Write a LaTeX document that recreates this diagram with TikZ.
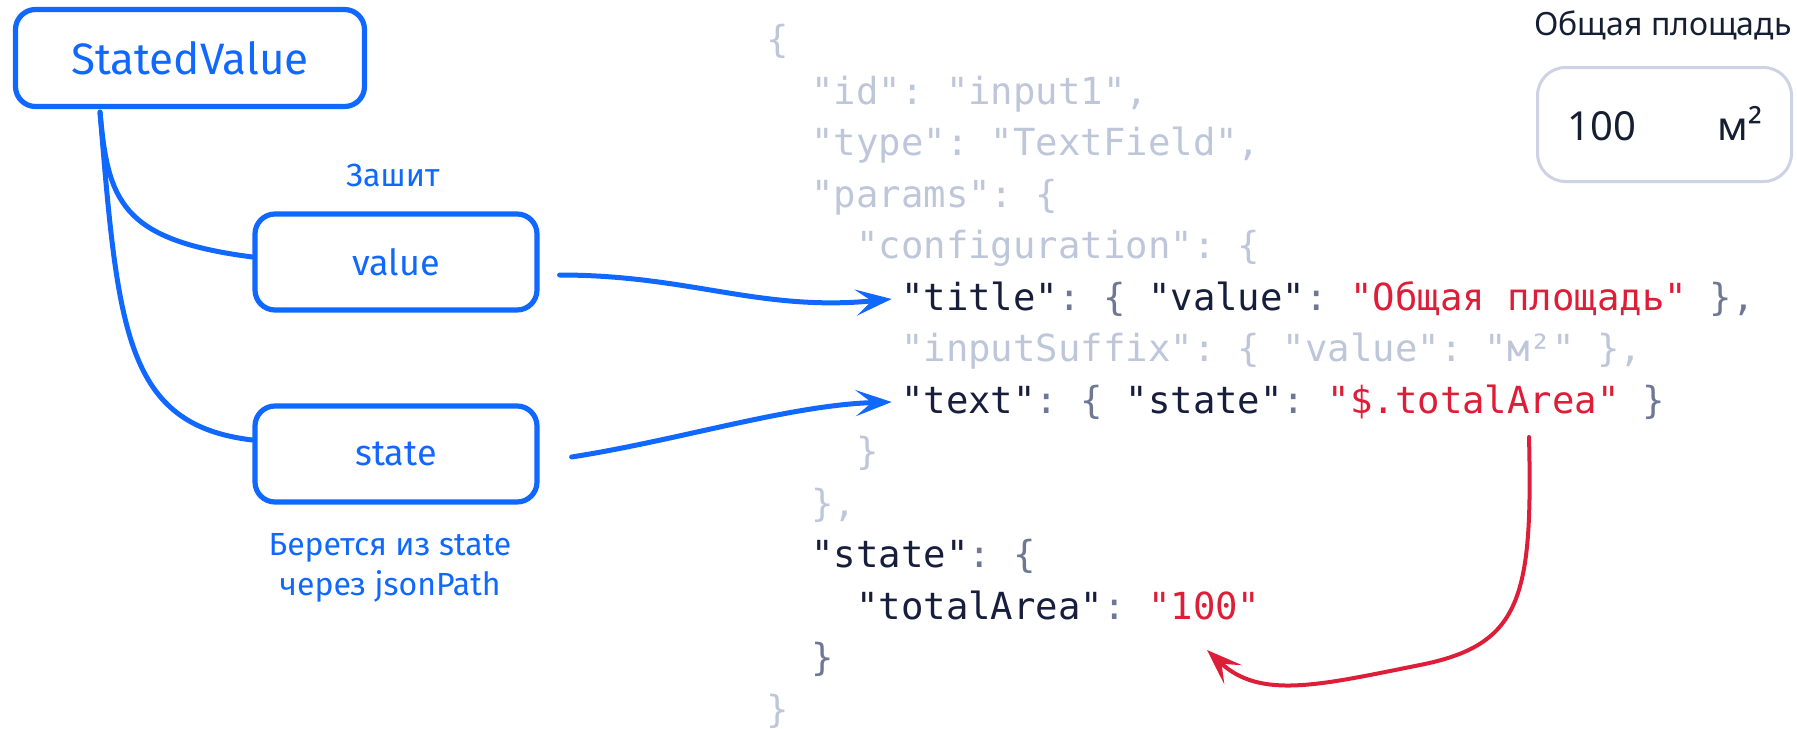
\documentclass[tikz,border=0pt]{standalone}
\usepackage{fontspec}
\setmainfont{Fira Sans}
\setmonofont{DejaVu Sans Mono}
\newfontfamily\uifont{Noto Sans}
\usetikzlibrary{arrows.meta,calc}
\definecolor{sketchblue}{RGB}{16,104,255}
\definecolor{jsonred}{RGB}{222,30,56}
\definecolor{jsonkey}{RGB}{22,30,60}
\definecolor{jsonpun}{RGB}{110,120,148}
\definecolor{jsondim}{RGB}{190,198,218}
\definecolor{uiborder}{RGB}{205,211,228}
\definecolor{uitext}{RGB}{22,30,50}
\newcommand\jkey[1]{\textcolor{jsonkey}{#1}}
\newcommand\jpun[1]{\textcolor{jsonpun}{#1}}
\newcommand\jstr[1]{\textcolor{jsonred}{#1}}
\newcommand\jdim[1]{\textcolor{jsondim}{#1}}

\begin{document}
\begin{tikzpicture}[
      x=0.5pt,y=-0.5pt,
      box/.style={draw=sketchblue,line width=2.6pt,rounded corners=10pt,minimum width=141pt,minimum height=48pt,text=sketchblue,font=\fontsize{18}{22}\selectfont},
      note/.style={text=sketchblue,align=center,font=\fontsize{16}{20}\selectfont},
      link/.style={sketchblue,line width=2.5pt,line cap=round},
      arr/.style={-{Stealth[length=18pt,width=13pt,inset=8pt]},line width=2.5pt,line cap=round},
      code/.style={inner sep=0pt,anchor=base west,font=\ttfamily\fontsize{18.65}{24}\selectfont}
    ]
    \useasboundingbox (0,0) rectangle (1797,728);

    % StatedValue и его поля
    \node[box,minimum width=174.5pt,minimum height=48.5pt,font=\fontsize{22}{26}\selectfont] (sv) at (190,58) {StatedValue};
    \node[box] (val) at (396,262) {value};
    \node[box] (st) at (396,454) {state};
    \node[note] (fixed) at (393,175) {Зашит};
    \node[note] (fromstate) at (390,568) {Берется из state\\через jsonPath};

    \coordinate (root) at ([xshift=-45pt,yshift=-1.5pt]sv.south);
    \draw[link] (root) .. controls (108,200) and (120,240) .. ([yshift=2.5pt]val.west);
    \draw[link] (root) .. controls (118,330) and (125,425) .. ([yshift=7pt]st.west);

    % JSON
    \node[code] (l0) at (766,52.5) {\jdim{\{}};
    \node[code] (l1) at (810.9,104) {\jdim{"id": "input1",}};
    \node[code] (l2) at (810.9,155.5) {\jdim{"type": "TextField",}};
    \node[code] (l3) at (810.9,207) {\jdim{"params": \{}};
    \node[code] (l4) at (855.8,258.5) {\jdim{"configuration": \{}};
    \node[code] (ttl) at (900.7,310) {\jkey{"title"}\jpun{: \{ }\jkey{"value"}\jpun{: }\jstr{"Общая площадь"} \jpun{\},}};
    \node[code] (l6) at (900.7,361.5) {\jdim{"inputSuffix": \{ "value": "м²" \},}};
    \node[code] (txt) at (900.7,413) {\jkey{"text"}\jpun{: \{ }\jkey{"state"}\jpun{: }\jstr{"\$.totalArea"} \jpun{\}}};
    \node[code] (l8) at (855.8,464.5) {\jdim{\}}};
    \node[code] (l9) at (810.9,516) {\jdim{\},}};
    \node[code] (l10) at (810.9,567.5) {\jkey{"state"}\jpun{: \{}};
    \node[code] (area) at (855.8,619) {\jkey{"totalArea"}\jpun{: }\jstr{"100"}};
    \node[code] (l12) at (810.9,670.5) {\jpun{\}}};
    \node[code] (l13) at (766,722) {\jdim{\}}};

    \draw[arr,sketchblue] ([shift={(20,13)}]val.east) .. controls (690,275) and (760,312) .. ([shift={(-9,-11)}]ttl.base west);
    \draw[arr,sketchblue] ([shift={(32,3)}]st.east) .. controls (680,440) and (790,405) .. ([shift={(-9,-11)}]txt.base west);

    \coordinate (redsrc) at (1529,437);
    \coordinate (redbend) at (1420,665);
    \coordinate (redtip) at (1207,650);
    \draw[arr,jsonred,line width=2pt] (redsrc) .. controls (1533,600) and (1520,645) .. (redbend)
      .. controls (1320,685) and (1260,700) .. (redtip);

    % поле ввода
    \node[inner sep=0pt,anchor=base east,text=uitext,font=\uifont\fontsize{16}{20}\selectfont] (ttlui) at (1792,35) {Общая площадь};
    \node[draw=uiborder,line width=1.5pt,rounded corners=14pt,minimum width=127pt,minimum height=57pt] (inp) at (1664.5,124.5) {};
    \node[inner sep=0pt,anchor=base west,text=uitext,font=\uifont\fontsize{20}{24}\selectfont] (num) at ([shift={(31,16)}]inp.west) {100};
    \node[inner sep=0pt,anchor=base east,text=uitext,font=\uifont\fontsize{20}{24}\selectfont] (unit) at ([shift={(-30,16)}]inp.east) {м²};
  \end{tikzpicture}
\end{document}
